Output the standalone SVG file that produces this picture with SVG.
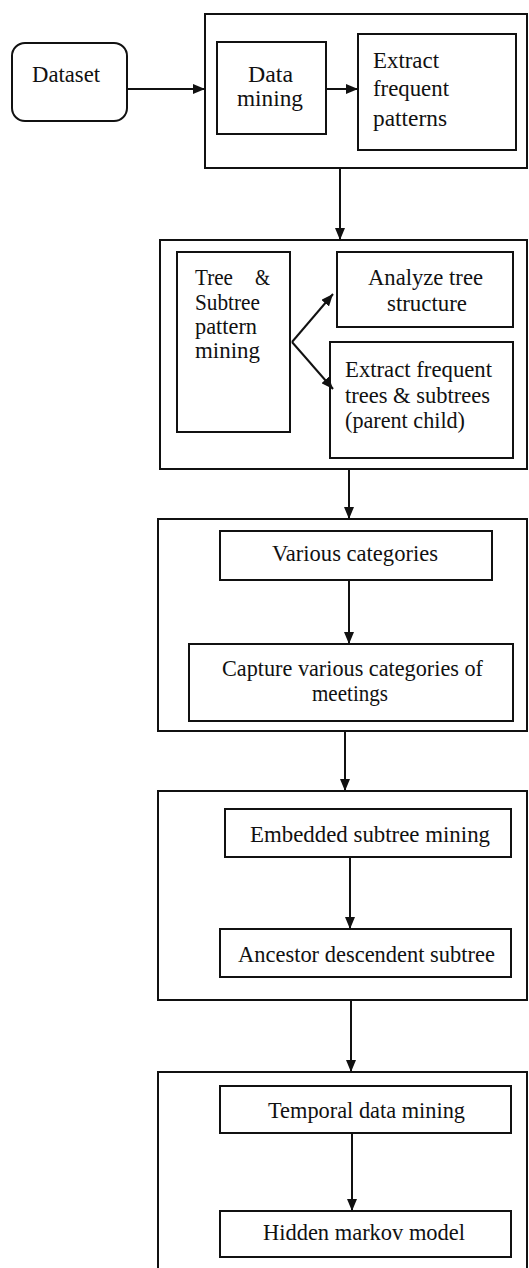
<svg xmlns="http://www.w3.org/2000/svg" width="529" height="1268" viewBox="0 0 529 1268">
<style>
.box{fill:#fff;stroke:#111;stroke-width:2}
.frame{fill:none;stroke:#111;stroke-width:2}
.t{font-family:"Liberation Serif","Times New Roman",serif;font-size:24px;fill:#111}
.c{stroke:#111;stroke-width:2;fill:none;marker-end:url(#ah)}
</style>
<defs>
<marker id="ah" markerUnits="userSpaceOnUse" markerWidth="12" markerHeight="10" refX="12" refY="5" orient="auto">
<path d="M0,0 L12,5 L0,10 z" fill="#111"/>
</marker>
</defs>
<rect width="529" height="1268" fill="#fff"/>

<g id="dataset">
<rect class="box" x="12" y="43" width="115" height="78" rx="13" ry="13" stroke="#333"/>
<text class="t" x="32" y="82" textLength="68" lengthAdjust="spacingAndGlyphs">Dataset</text>
</g>

<g id="stage1">
<rect class="frame" x="205" y="14" width="322" height="154"/>
</g>
<g id="data-mining">
<rect class="box" x="217" y="42" width="109" height="92"/>
<text class="t" x="248" y="82" textLength="45" lengthAdjust="spacingAndGlyphs">Data</text>
<text class="t" x="237" y="106" textLength="66" lengthAdjust="spacingAndGlyphs">mining</text>
</g>
<g id="extract-patterns">
<rect class="box" x="358" y="34" width="158" height="116"/>
<text class="t" x="373" y="68" textLength="66" lengthAdjust="spacingAndGlyphs">Extract</text>
<text class="t" x="373" y="96" textLength="76" lengthAdjust="spacingAndGlyphs">frequent</text>
<text class="t" x="373" y="126" textLength="74" lengthAdjust="spacingAndGlyphs">patterns</text>
</g>

<g id="stage2">
<rect class="frame" x="160" y="240" width="367" height="229"/>
</g>
<g id="tree-subtree">
<rect class="box" x="177" y="252" width="113" height="180"/>
<text class="t" x="195" y="285" textLength="38" lengthAdjust="spacingAndGlyphs">Tree</text>
<text class="t" x="255" y="285" textLength="15" lengthAdjust="spacingAndGlyphs">&amp;</text>
<text class="t" x="195" y="310" textLength="65" lengthAdjust="spacingAndGlyphs">Subtree</text>
<text class="t" x="195" y="334" textLength="62" lengthAdjust="spacingAndGlyphs">pattern</text>
<text class="t" x="195" y="358" textLength="65" lengthAdjust="spacingAndGlyphs">mining</text>
</g>
<g id="analyze-tree">
<rect class="box" x="337" y="252" width="176" height="75"/>
<text class="t" x="368" y="285" textLength="115" lengthAdjust="spacingAndGlyphs">Analyze tree</text>
<text class="t" x="387" y="311" textLength="80" lengthAdjust="spacingAndGlyphs">structure</text>
</g>
<g id="extract-trees">
<rect class="box" x="330" y="342" width="183" height="116"/>
<text class="t" x="345" y="377" textLength="147" lengthAdjust="spacingAndGlyphs">Extract frequent</text>
<text class="t" x="345" y="403" textLength="145" lengthAdjust="spacingAndGlyphs">trees &amp; subtrees</text>
<text class="t" x="345" y="428" textLength="120" lengthAdjust="spacingAndGlyphs">(parent child)</text>
</g>

<g id="stage3">
<rect class="frame" x="158" y="519" width="369" height="212"/>
</g>
<g id="various-categories">
<rect class="box" x="220" y="531" width="272" height="49"/>
<text class="t" x="272" y="561" textLength="166" lengthAdjust="spacingAndGlyphs">Various categories</text>
</g>
<g id="capture-categories">
<rect class="box" x="189" y="644" width="324" height="77"/>
<text class="t" x="222" y="676" textLength="261" lengthAdjust="spacingAndGlyphs">Capture various categories of</text>
<text class="t" x="312" y="701" textLength="76" lengthAdjust="spacingAndGlyphs">meetings</text>
</g>

<g id="stage4">
<rect class="frame" x="158" y="791" width="369" height="209"/>
</g>
<g id="embedded-subtree">
<rect class="box" x="225" y="809" width="286" height="48"/>
<text class="t" x="250" y="842" textLength="240" lengthAdjust="spacingAndGlyphs">Embedded subtree mining</text>
</g>
<g id="ancestor-descendent">
<rect class="box" x="220" y="929" width="291" height="48"/>
<text class="t" x="238" y="962" textLength="257" lengthAdjust="spacingAndGlyphs">Ancestor descendent subtree</text>
</g>

<g id="stage5">
<rect class="frame" x="158" y="1072" width="369" height="220"/>
</g>
<g id="temporal-mining">
<rect class="box" x="220" y="1086" width="291" height="47"/>
<text class="t" x="268" y="1118" textLength="197" lengthAdjust="spacingAndGlyphs">Temporal data mining</text>
</g>
<g id="hidden-markov">
<rect class="box" x="220" y="1211" width="291" height="46"/>
<text class="t" x="263" y="1240" textLength="202" lengthAdjust="spacingAndGlyphs">Hidden markov model</text>
</g>

<g id="connectors">
<line class="c" x1="127" y1="89" x2="205" y2="89"/>
<line class="c" x1="326" y1="89" x2="358" y2="89"/>
<line class="c" x1="340" y1="168" x2="340" y2="240"/>
<line class="c" x1="292" y1="342" x2="333" y2="294"/>
<line class="c" x1="292" y1="342" x2="333" y2="389"/>
<line class="c" x1="349" y1="469" x2="349" y2="519"/>
<line class="c" x1="349" y1="580" x2="349" y2="644"/>
<line class="c" x1="345" y1="731" x2="345" y2="791"/>
<line class="c" x1="350" y1="857" x2="350" y2="929"/>
<line class="c" x1="351" y1="1000" x2="351" y2="1072"/>
<line class="c" x1="352" y1="1133" x2="352" y2="1211"/>
</g>
</svg>
